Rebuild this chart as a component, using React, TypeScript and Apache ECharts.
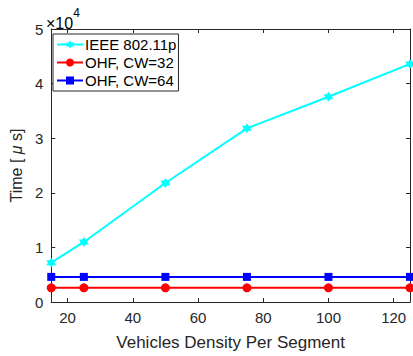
import React, { useEffect, useRef } from "react";
import * as echarts from "echarts";

const density = [15, 25, 50, 75, 100, 125];
const ieee = [7200, 11000, 21800, 31800, 37600, 43600];
const ohf32 = [2600, 2600, 2600, 2600, 2600, 2600];
const ohf64 = [4600, 4600, 4600, 4600, 4600, 4600];
const xTicks = [20, 40, 60, 80, 100, 120];
const seriesNames = ["IEEE 802.11p", "OHF, CW=32", "OHF, CW=64"];

const FONT = "Liberation Sans, Arial, Helvetica, sans-serif";
const TXT = "#262626";
const AX = "#262626";

const hexagram =
  "path://M0,-10 L2.89,-5 L8.66,-5 L5.77,0 L8.66,5 L2.89,5 L0,10 L-2.89,5 L-8.66,5 L-5.77,0 L-8.66,-5 L-2.89,-5 Z";

export default function App() {
  const ref = useRef<HTMLDivElement>(null);
  useEffect(() => {
    const chart = echarts.init(ref.current!, null, { renderer: "svg" });
    const pair = (ys: number[]) => density.map((x, i) => [x, ys[i]]);
    const xBase = {
      type: "value",
      min: 15,
      max: 125,
      axisLine: { show: true, onZero: false, lineStyle: { color: AX, width: 1 } },
      axisTick: {
        show: true,
        inside: true,
        length: 4,
        customValues: xTicks,
        lineStyle: { color: AX },
      },
      splitLine: { show: false },
    };
    const yBase = {
      type: "value",
      min: 0,
      max: 50000,
      interval: 10000,
      axisLine: { show: true, onZero: false, lineStyle: { color: AX, width: 1 } },
      axisTick: { show: true, inside: true, length: 4, lineStyle: { color: AX } },
      splitLine: { show: false },
    };
    chart.setOption({
      animation: false,
      backgroundColor: "#fff",
      grid: { left: 46, right: 3, top: 29, bottom: 50, containLabel: false },
      xAxis: [
        {
          ...xBase,
          position: "bottom",
          name: "Vehicles Density Per Segment",
          nameLocation: "middle",
          nameGap: 32,
          nameTextStyle: { fontFamily: FONT, fontSize: 17, color: TXT },
          axisLabel: {
            show: true,
            customValues: xTicks,
            fontFamily: FONT,
            fontSize: 15,
            color: TXT,
            margin: 8,
          },
        },
        {
          ...xBase,
          position: "top",
          axisLabel: { show: false },
        },
      ],
      yAxis: [
        {
          ...yBase,
          position: "left",
          name: "{n|Time [ }{m|μ}{n| s]}",
          nameLocation: "middle",
          nameGap: 27,
          nameTextStyle: {
            fontFamily: FONT,
            fontSize: 16,
            color: TXT,
            rich: {
              n: { fontFamily: FONT, fontSize: 16, color: TXT },
              m: { fontFamily: FONT, fontSize: 16, color: TXT, fontStyle: "italic" },
            },
          },
          axisLabel: {
            fontFamily: FONT,
            fontSize: 15,
            color: TXT,
            margin: 8,
            formatter: (v: number) => String(v / 10000),
          },
        },
        {
          ...yBase,
          position: "right",
          axisLabel: { show: false },
        },
      ],
      legend: {
        left: 53,
        top: 34,
        orient: "vertical",
        backgroundColor: "#fff",
        borderColor: TXT,
        borderWidth: 1,
        borderRadius: 0,
        padding: [3, 2, 3, 3],
        itemGap: 3,
        itemWidth: 26,
        itemHeight: 10,
        textStyle: { fontFamily: FONT, fontSize: 15, color: "#000", padding: [0, 0, 0, -3] },
        data: seriesNames,
      },
      series: [
        {
          name: seriesNames[0],
          type: "line",
          data: pair(ieee),
          color: "#00ffff",
          lineStyle: { width: 2 },
          symbol: hexagram,
          symbolSize: 10,
          itemStyle: { color: "#00ffff" },
        },
        {
          name: seriesNames[1],
          type: "line",
          data: pair(ohf32),
          color: "#ff0000",
          lineStyle: { width: 2 },
          symbol: "circle",
          symbolSize: 9,
          itemStyle: { color: "#ff0000" },
        },
        {
          name: seriesNames[2],
          type: "line",
          data: pair(ohf64),
          color: "#0000ff",
          lineStyle: { width: 2 },
          symbol: "rect",
          symbolSize: 8,
          itemStyle: { color: "#0000ff" },
        },
      ],
      graphic: [
        {
          type: "text",
          left: 46,
          top: 7,
          style: {
            text: "{a|×10}{b|4}",
            rich: {
              a: { fontFamily: FONT, fontSize: 16, color: TXT, verticalAlign: "bottom", padding: [8, 0, 0, 0] },
              b: { fontFamily: FONT, fontSize: 12, color: TXT, verticalAlign: "top", padding: [0, 0, 8, 0] },
            },
          },
        },
      ],
    });
    return () => chart.dispose();
  }, []);
  return (
    <div
      ref={ref}
      style={{ position: "fixed", left: 0, top: 0, width: 413, height: 356 }}
    />
  );
}
